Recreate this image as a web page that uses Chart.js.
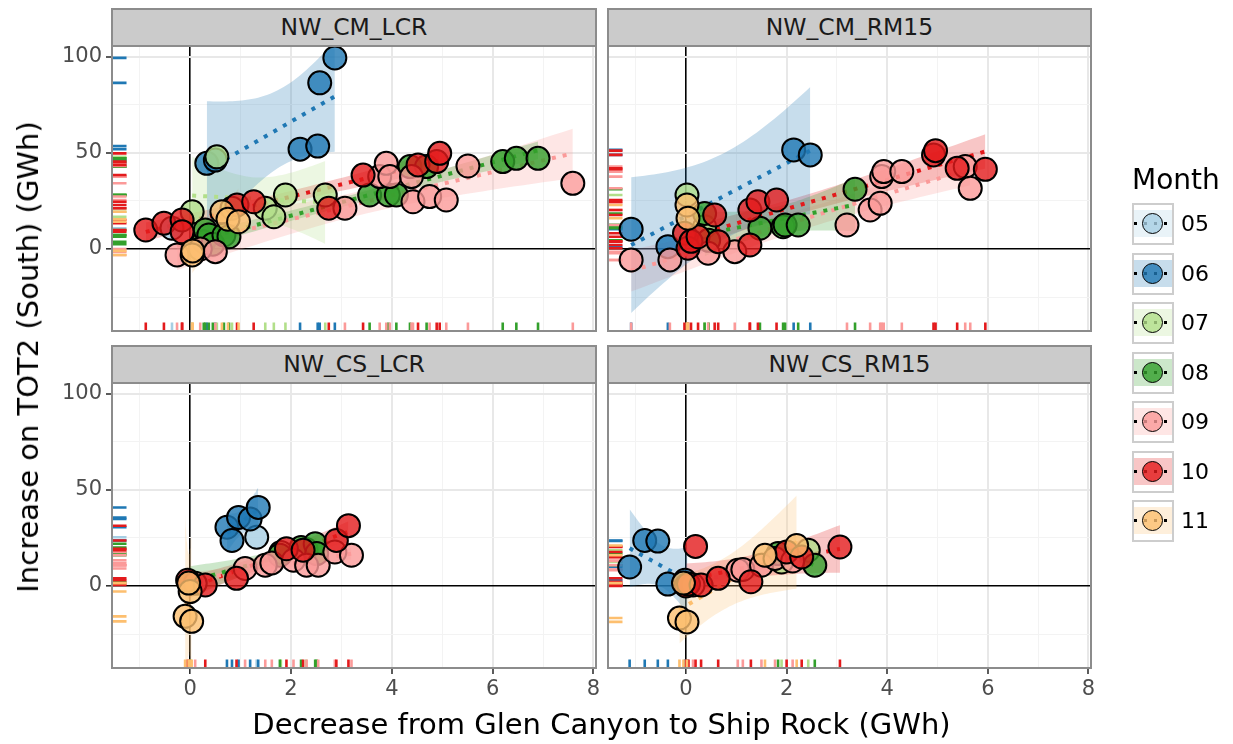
<!DOCTYPE html>
<html>
<head>
<meta charset="utf-8">
<script src="https://cdn.jsdelivr.net/npm/chart.js@4.4.0/dist/chart.umd.min.js"></script>
<style>
    body { margin: 0; background: #fff; font-family: 'DejaVu Sans', sans-serif; }
    #wrap { position: relative; width: 1233px; height: 744px; overflow: hidden; background: #fff; }
    canvas.panel { position: absolute; left: 0; top: 0; }
    .strip { position: absolute; box-sizing: border-box; background: #cbcbcb; border: 2px solid #8c8c8c;
             color: #1a1a1a; font-size: 23.5px; text-align: center; }
    .frame { position: absolute; box-sizing: border-box; border: 2px solid #8c8c8c; pointer-events: none; }
    .title { position: absolute; color: #000; font-size: 29px; white-space: nowrap; }
    .key { position: absolute; left: 1132px; width: 42px; height: 42px; box-sizing: border-box;
           border: 2.5px solid #cdcdcd; background: #fff; }
    .key .band { position: absolute; left: 0; right: 0; top: 5px; height: 27px; }
    .key .dots { position: absolute; left: 0; right: 0; top: 17px; height: 3px;
                 background: repeating-linear-gradient(90deg, #000 0 3px, transparent 3px 10px); }
    .key .dot { position: absolute; left: 8px; top: 8px; width: 21px; height: 21px; box-sizing: border-box;
                border: 1.5px solid #000; border-radius: 50%; }
    .keylabel { position: absolute; left: 1181px; font-size: 22px; color: #000; line-height: 24px; }
</style>
</head>
<body>
<div id="wrap">
    <canvas class="panel" id="c0" width="1233" height="744"></canvas>
    <canvas class="panel" id="c1" width="1233" height="744"></canvas>
    <canvas class="panel" id="c2" width="1233" height="744"></canvas>
    <canvas class="panel" id="c3" width="1233" height="744"></canvas>
</div>
<script>
// months, Paired palette per month
const months = ['05', '06', '07', '08', '09', '10', '11'];
const monthColors = ['#a6cee3', '#1f78b4', '#b2df8a', '#33a02c', '#fb9a99', '#e31a1c', '#fdbf6f'];

// axis ticks (minor + major) and which of them carry a label
const xTicks = [-1, 0, 1, 2, 3, 4, 5, 6, 7, 8];
const xLabels = [0, 2, 4, 6, 8];
const yTicks = [-25, 0, 25, 50, 75, 100];
const yLabels = [0, 50, 100];

// [month, decrease GC->SR (GWh), increase TOT2 (GWh)]
const cmLcrPoints = [
    ['05', -0.36, 10.8],
    ['06', 0.33, 44.6], ['06', 0.50, 46.3], ['06', 2.18, 52.0], ['06', 2.53, 53.6], ['06', 2.57, 86.5], ['06', 2.87, 99.5],
    ['07', 0.04, 19.4], ['07', 0.53, 48.0], ['07', 0.83, 21.2], ['07', 1.49, 21.2], ['07', 1.66, 16.8], ['07', 1.89, 28.1], ['07', 2.68, 28.1],
    ['08', 0.27, 3.8], ['08', 0.30, 9.9], ['08', 0.37, 7.3], ['08', 0.45, 2.5], ['08', 0.67, 7.3], ['08', 0.77, 6.4],
    ['08', 3.56, 28.1], ['08', 3.93, 28.1], ['08', 4.09, 28.1], ['08', 4.36, 42.9], ['08', 4.69, 42.9],
    ['08', 6.20, 45.5], ['08', 6.47, 47.2], ['08', 6.90, 47.2],
    ['09', -0.26, -3.1], ['09', 0.20, 0.0], ['09', 0.50, -1.4], ['09', 3.07, 21.2], ['09', 3.76, 37.7], ['09', 3.89, 44.6],
    ['09', 3.96, 37.7], ['09', 4.39, 37.7], ['09', 4.42, 24.6], ['09', 4.75, 27.3], ['09', 5.08, 25.5], ['09', 5.51, 43.2], ['09', 7.59, 34.2],
    ['10', -0.88, 9.9], ['10', -0.52, 13.4], ['10', -0.16, 15.1], ['10', -0.16, 9.0], ['10', 0.93, 22.9], ['10', 1.26, 24.6],
    ['10', 2.75, 21.2], ['10', 3.43, 38.5], ['10', 4.52, 43.8], ['10', 4.89, 45.5], ['10', 4.95, 49.8],
    ['11', 0.04, -3.1], ['11', 0.05, -1.0], ['11', 0.63, 19.4], ['11', 0.75, 15.5], ['11', 0.96, 14.2]
];

const cmRm15Points = [
    ['06', -1.09, 10.3], ['06', -0.36, 1.2], ['06', 2.14, 51.6], ['06', 2.47, 49.0],
    ['07', 0.02, 28.1], ['07', 0.37, 11.6],
    ['08', 0.37, 18.5], ['08', 0.45, 4.5], ['08', 1.47, 10.8], ['08', 1.93, 11.6], ['08', 1.97, 12.5], ['08', 2.23, 12.5], ['08', 3.36, 31.1],
    ['09', -1.09, -5.7], ['09', -0.32, -5.7], ['09', 0.44, -2.2], ['09', 0.97, -1.4], ['09', 3.20, 12.5], ['09', 3.66, 20.3],
    ['09', 3.86, 23.8], ['09', 3.89, 37.7], ['09', 3.93, 40.3], ['09', 4.29, 40.3], ['09', 5.55, 42.9], ['09', 5.65, 31.6],
    ['10', -0.03, 8.2], ['10', 0.04, 0.4], ['10', 0.10, 4.0], ['10', 0.24, 6.4], ['10', 0.57, 17.7], ['10', 0.64, 3.8],
    ['10', 1.27, 2.1], ['10', 1.27, 20.3], ['10', 1.43, 24.6], ['10', 1.80, 25.5], ['10', 4.92, 49.0], ['10', 4.96, 51.2],
    ['10', 5.39, 42.0], ['10', 5.95, 41.5],
    ['11', 0.02, 22.9], ['11', 0.04, 16.0]
];

const csLcrPoints = [
    ['05', 1.32, 25.4],
    ['06', 0.73, 30.6], ['06', 0.83, 23.7], ['06', 0.96, 35.7], ['06', 1.19, 34.9], ['06', 1.35, 40.9],
    ['07', 1.80, 17.5], ['07', 2.30, 19.0],
    ['08', 0.00, 2.0], ['08', 1.78, 16.0], ['08', 2.20, 20.0], ['08', 2.48, 22.0], ['08', 2.51, 16.9],
    ['09', 0.10, 1.4], ['09', 1.09, 9.1], ['09', 1.49, 10.8], ['09', 1.62, 12.0], ['09', 2.05, 13.4], ['09', 2.31, 10.8],
    ['09', 2.54, 10.8], ['09', 2.87, 17.7], ['09', 3.20, 16.0],
    ['10', -0.05, 3.0], ['10', 0.30, 0.5], ['10', 0.92, 4.0], ['10', 1.91, 19.4], ['10', 2.24, 18.6], ['10', 2.90, 23.7], ['10', 3.14, 31.4],
    ['11', -0.10, -15.8], ['11', 0.00, -2.9], ['11', 0.03, -18.4], ['11', -0.03, 1.5]
];

const csRm15Points = [
    ['06', -1.12, 9.9], ['06', -0.82, 23.7], ['06', -0.56, 23.4], ['06', -0.36, 1.0], ['06', -0.02, 3.0], ['06', 0.03, 0.5],
    ['07', 1.90, 12.5], ['07', 2.43, 18.6],
    ['08', 1.83, 16.9], ['08', 2.56, 10.8],
    ['09', 0.14, 0.5], ['09', 1.03, 8.2], ['09', 1.13, 8.6], ['09', 1.50, 10.8], ['09', 1.77, 14.3], ['09', 2.12, 13.0],
    ['10', 0.00, 0.0], ['10', 0.05, 1.0], ['10', 0.19, 20.6], ['10', 0.30, 0.5], ['10', 0.64, 4.0], ['10', 1.29, 2.2],
    ['10', 2.00, 17.7], ['10', 2.30, 15.1], ['10', 3.06, 20.3],
    ['11', -0.13, -16.7], ['11', 0.02, -18.7], ['11', -0.05, 1.5], ['11', 1.57, 16.0], ['11', 2.20, 21.1]
];

const FONT = "'DejaVu Sans', sans-serif";
const W = 1233, H = 744;
const Y_AXIS_W = 70, X_AXIS_H = 40;

const panels = [
    { id: 'c0', name: 'NW_CM_LCR',  rows: cmLcrPoints,  box: [112, 46, 596, 331],  xLab: false, yLab: true },
    { id: 'c1', name: 'NW_CM_RM15', rows: cmRm15Points, box: [608, 46, 1091, 331], xLab: false, yLab: false },
    { id: 'c2', name: 'NW_CS_LCR',  rows: csLcrPoints,  box: [112, 383, 596, 668], xLab: true,  yLab: true },
    { id: 'c3', name: 'NW_CS_RM15', rows: csRm15Points, box: [608, 383, 1091, 668], xLab: true,  yLab: false }
];

function rgba(hex, a) {
    const n = parseInt(hex.slice(1), 16);
    return `rgba(${n >> 16}, ${(n >> 8) & 255}, ${n & 255}, ${a})`;
}

// two-sided 95% t quantile
function tQuantile(df) {
    const t = [NaN, 12.706, 4.303, 3.182, 2.776, 2.571, 2.447, 2.365, 2.306, 2.262, 2.228, 2.201, 2.179, 2.160, 2.145, 2.131];
    return df < t.length ? t[df] : 1.96 + 2.4 / df;
}

// least squares line with its confidence band, like geom_smooth(method = 'lm')
function linearFit(pts) {
    const n = pts.length;
    const mx = pts.reduce((s, p) => s + p.x, 0) / n;
    const my = pts.reduce((s, p) => s + p.y, 0) / n;
    let sxx = 0, sxy = 0;
    pts.forEach(p => { sxx += (p.x - mx) ** 2; sxy += (p.x - mx) * (p.y - my); });
    const b = sxy / sxx, a = my - b * mx;
    let sse = 0;
    pts.forEach(p => { sse += (p.y - a - b * p.x) ** 2; });
    const df = n - 2;
    const s = df > 0 ? Math.sqrt(sse / df) : NaN;
    const t = tQuantile(df);
    const xs = pts.map(p => p.x);
    const lo = Math.min(...xs), hi = Math.max(...xs);
    const line = [], lower = [], upper = [];
    for (let i = 0; i <= 40; i++) {
        const x = lo + (hi - lo) * i / 40;
        const yhat = a + b * x;
        line.push({ x, y: yhat });
        if (df > 0) {
            const se = s * Math.sqrt(1 / n + (x - mx) ** 2 / sxx);
            lower.push({ x, y: yhat - t * se });
            upper.push({ x, y: yhat + t * se });
        }
    }
    return { line, lower, upper, band: df > 0 };
}

function buildDatasets(rows) {
    const sets = [];
    months.forEach((m, i) => {
        const pts = rows.filter(r => r[0] === m).map(r => ({ x: r[1], y: r[2] }));
        if (!pts.length) return;
        const col = monthColors[i];
        if (pts.length >= 2) {
            const fit = linearFit(pts);
            if (fit.band) {
                sets.push({ type: 'line', data: fit.lower, borderWidth: 0, pointRadius: 0, fill: false, order: 30 });
                sets.push({ type: 'line', data: fit.upper, borderWidth: 0, pointRadius: 0, fill: '-1',
                            backgroundColor: rgba(col, 0.25), order: 30 });
            }
            sets.push({ type: 'line', data: fit.line, borderColor: col, borderWidth: 4, borderDash: [4, 7],
                        borderCapStyle: 'butt', pointRadius: 0, fill: false, order: 20 });
        }
        sets.push({ type: 'scatter', data: pts, rug: col, backgroundColor: rgba(col, 0.8), borderColor: '#000',
                    borderWidth: 2, pointRadius: 11.5, order: 10 - i });
    });
    return sets;
}

// rug ticks along the left and bottom edges of each panel
const rugPlugin = {
    id: 'rug',
    beforeDatasetsDraw(chart) {
        const { ctx, chartArea: a, scales: { x, y } } = chart;
        const lenX = (a.right - a.left) * 0.03, lenY = (a.bottom - a.top) * 0.03;
        ctx.save();
        ctx.lineWidth = 2.6;
        chart.data.datasets.forEach(ds => {
            if (!ds.rug) return;
            ctx.strokeStyle = ds.rug;
            ds.data.forEach(p => {
                const px = x.getPixelForValue(p.x), py = y.getPixelForValue(p.y);
                ctx.beginPath();
                ctx.moveTo(px, a.bottom); ctx.lineTo(px, a.bottom - lenY);
                ctx.moveTo(a.left, py); ctx.lineTo(a.left + lenX, py);
                ctx.stroke();
            });
        });
        ctx.restore();
    }
};

function gridColor(major) {
    return c => c.tick.value === 0 ? '#000' : (major.includes(c.tick.value) ? '#e8e8e8' : '#f3f3f3');
}
function gridWidth(major) {
    return c => c.tick.value === 0 ? 1.6 : (major.includes(c.tick.value) ? 2 : 1);
}

panels.forEach(p => {
    const [l, t, r, b] = p.box;
    const yw = p.yLab ? Y_AXIS_W : 0, xh = p.xLab ? X_AXIS_H : 0;
    new Chart(document.getElementById(p.id), {
        type: 'scatter',
        data: { datasets: buildDatasets(p.rows) },
        plugins: [rugPlugin],
        options: {
            responsive: false,
            animation: false,
            devicePixelRatio: 1,
            events: [],
            layout: { autoPadding: false, padding: { left: l - yw, top: t, right: W - r, bottom: H - b - xh } },
            plugins: { legend: { display: false }, tooltip: { enabled: false } },
            scales: {
                x: {
                    type: 'linear', min: -1.55, max: 8.05,
                    afterBuildTicks: s => { s.ticks = xTicks.map(v => ({ value: v })); },
                    afterFit: s => { s.height = xh; },
                    border: { display: false },
                    grid: {
                        color: gridColor(xLabels), lineWidth: gridWidth(xLabels),
                        drawTicks: p.xLab, tickLength: 6, tickWidth: 1.6,
                        tickColor: c => xLabels.includes(c.tick.value) ? '#333' : 'rgba(0,0,0,0)'
                    },
                    ticks: {
                        display: p.xLab, autoSkip: false, maxRotation: 0, padding: 3,
                        color: '#4d4d4d', font: { family: FONT, size: 21 },
                        callback: v => xLabels.includes(v) ? String(v) : ''
                    }
                },
                y: {
                    type: 'linear', min: -42.7, max: 105.7,
                    afterBuildTicks: s => { s.ticks = yTicks.map(v => ({ value: v })); },
                    afterFit: s => { s.width = yw; },
                    border: { display: false },
                    grid: {
                        color: gridColor(yLabels), lineWidth: gridWidth(yLabels),
                        drawTicks: p.yLab, tickLength: 6, tickWidth: 1.6,
                        tickColor: c => yLabels.includes(c.tick.value) ? '#333' : 'rgba(0,0,0,0)'
                    },
                    ticks: {
                        display: p.yLab, autoSkip: false, padding: 4,
                        color: '#4d4d4d', font: { family: FONT, size: 21 },
                        callback: v => yLabels.includes(v) ? String(v) : ''
                    }
                }
            }
        }
    });
});

// strips, panel frames, axis titles and legend
const wrap = document.getElementById('wrap');
function add(cls, css, html) {
    const d = document.createElement('div');
    d.className = cls;
    Object.assign(d.style, css);
    if (html !== undefined) d.innerHTML = html;
    wrap.appendChild(d);
    return d;
}

panels.forEach(p => {
    const [l, t, r, b] = p.box;
    add('strip', { left: (l - 1) + 'px', top: (t - 38) + 'px', width: (r - l + 2) + 'px', height: '39px',
                   lineHeight: '35px' }, p.name);
    add('frame', { left: (l - 1) + 'px', top: (t - 1) + 'px', width: (r - l + 2) + 'px', height: (b - t + 2) + 'px' });
});

add('title', { left: '112px', width: '979px', top: '704px', textAlign: 'center', lineHeight: '40px' },
    'Decrease from Glen Canyon to Ship Rock (GWh)');
add('title', { left: '28px', top: '357px', transform: 'translate(-50%, -50%) rotate(-90deg)', lineHeight: '32px' },
    'Increase on TOT2 (South) (GWh)');

add('title', { left: '1132px', top: '163px', lineHeight: '34px', fontSize: '28px' }, 'Month');
months.forEach((m, i) => {
    const cy = 224 + i * 49.5;
    const key = add('key', { top: (cy - 21) + 'px' });
    key.innerHTML = `<div class="band" style="background:${rgba(monthColors[i], 0.25)}"></div>` +
                    `<div class="dots"></div>` +
                    `<div class="dot" style="background:${rgba(monthColors[i], 0.8)}"></div>`;
    add('keylabel', { top: (cy - 12) + 'px' }, m);
});
</script>
</body>
</html>
